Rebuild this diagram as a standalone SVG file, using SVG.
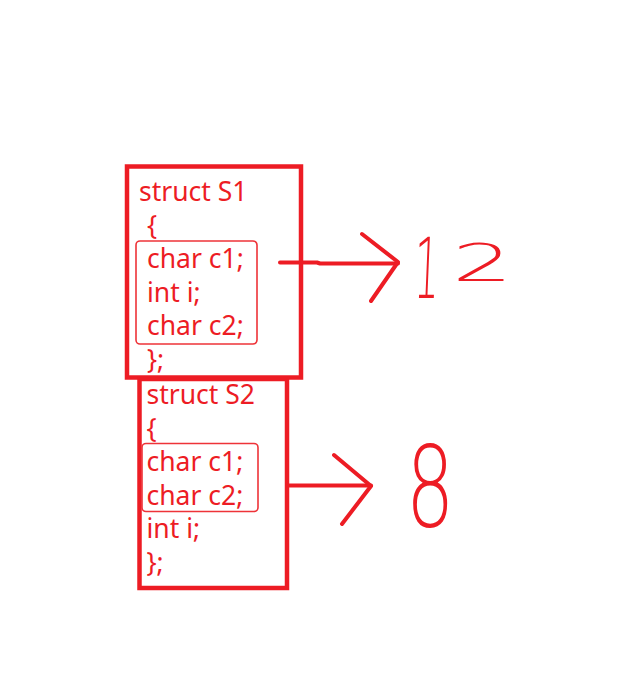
<svg xmlns="http://www.w3.org/2000/svg" width="618" height="696" viewBox="0 0 618 696">
<style>
.box{fill:none;stroke:#ED1C24;stroke-width:4.5}
.inner{fill:none;stroke:#EE3338;stroke-width:1.6}
.code{font-family:"Noto Sans","Open Sans",sans-serif;font-size:26.5px;fill:#ED1C24}
.conn{fill:none;stroke:#ED1C24;stroke-width:4;stroke-linecap:round;stroke-linejoin:round}
.hand{font-family:"DejaVu Sans","Liberation Sans",sans-serif;font-weight:200;fill:#ED1C24}
</style>
<rect width="618" height="696" fill="#ffffff"/>
<g id="S1">
<rect class="box" x="127" y="166.5" width="174" height="211"/>
<rect class="inner" x="136" y="241" width="121" height="103" rx="4"/>
<text class="code" x="139" y="201">struct S1</text>
<text class="code" x="147" y="234.5">{</text>
<text class="code" x="147" y="268">char c1;</text>
<text class="code" x="147" y="301.5">int i;</text>
<text class="code" x="147" y="335">char c2;</text>
<text class="code" x="147" y="368.5">};</text>
</g>
<g id="S2">
<rect class="box" x="139.5" y="379" width="147.5" height="209"/>
<rect class="inner" x="142" y="443.5" width="116" height="68" rx="4"/>
<text class="code" x="146.5" y="404">struct S2</text>
<text class="code" x="146.5" y="437.5">{</text>
<text class="code" x="146.5" y="471">char c1;</text>
<text class="code" x="146.5" y="504.5">char c2;</text>
<text class="code" x="146.5" y="538">int i;</text>
<text class="code" x="146.5" y="571.5">};</text>
</g>
<g id="connectors">
<polyline class="conn" points="280,262.5 317,262.5 320,263.5 398,263.5"/>
<polyline class="conn" points="362,234 398,262 371,301"/>
<polyline class="conn" points="288,485.5 371,485.5"/>
<polyline class="conn" points="334,455 371,486 342,524"/>
</g>
<g id="result1">
<text class="hand" font-size="40" transform="translate(413,298) scale(1,2.1) skewX(-5)">1</text>
<text class="hand" font-size="40" transform="translate(452,281) scale(2.4,1.3)">2</text>
</g>
<g id="result2">
<text class="hand" font-size="40" transform="translate(406,526) scale(1.9,2.8)">8</text>
</g>
</svg>
